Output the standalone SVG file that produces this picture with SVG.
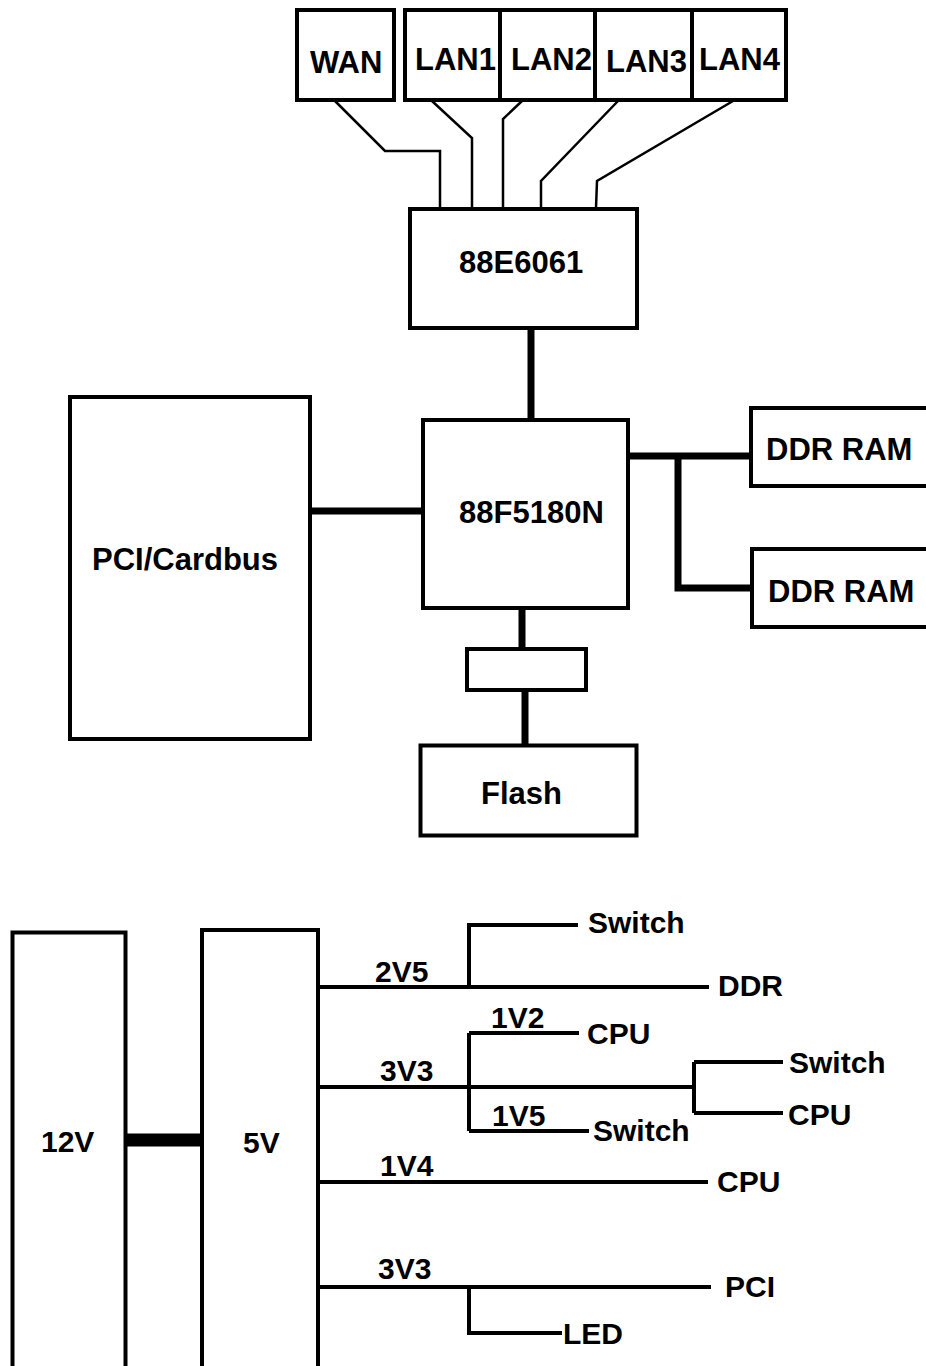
<svg xmlns="http://www.w3.org/2000/svg" width="926" height="1366" viewBox="0 0 926 1366">
<style>
.box{fill:#fff;stroke:#000;stroke-width:4}
.t{font-family:"Liberation Sans",Arial,sans-serif;font-weight:bold;font-size:31px;fill:#000}
.s{font-family:"Liberation Sans",Arial,sans-serif;font-weight:bold;font-size:30px;fill:#000}
.thin{fill:none;stroke:#000;stroke-width:2.5}
.bus{fill:none;stroke:#000;stroke-width:7}
.pw{fill:none;stroke:#000;stroke-width:4}
</style>
<rect width="926" height="1366" fill="#fff"/>
<g id="connectors">
<path class="thin" d="M335 101 L385 151 H440 V208"/>
<path class="thin" d="M432 101 L472 138 V208"/>
<path class="thin" d="M522 101 L503 119 V208"/>
<path class="thin" d="M618 101 L541 181 V208"/>
<path class="thin" d="M733 101 L597 181 L596 208"/>
<path class="bus" d="M531 330 V420"/>
<path class="bus" d="M312 511 H421"/>
<path class="bus" stroke-width="9" d="M630 456 H750"/>
<path class="bus" stroke-width="9" d="M678 456 V588 H751"/>
<path class="bus" d="M522 608 V649"/>
<path class="bus" d="M525 690 V745"/>
<path fill="none" stroke="#000" stroke-width="13" stroke-linecap="round" d="M126 1140 H206"/>
<path class="pw" d="M318 987 H709"/>
<path class="pw" d="M469 987 V925 H578"/>
<path class="pw" d="M318 1087 H695"/>
<path class="pw" d="M469 1033 V1131"/>
<path class="pw" d="M469 1033 H579"/>
<path class="pw" d="M469 1131 H589"/>
<path class="pw" d="M694 1062 V1113"/>
<path class="pw" d="M694 1062 H783"/>
<path class="pw" d="M694 1113 H783"/>
<path class="pw" d="M318 1182 H708"/>
<path class="pw" d="M318 1287 H711"/>
<path class="pw" d="M469 1287 V1333 H562"/>
</g>
<g id="wan"><rect class="box" x="297" y="10" width="97" height="90"/><text class="t" x="310" y="73">WAN</text></g>
<g id="lan1"><rect class="box" x="405" y="10" width="95" height="90"/><text class="t" x="415" y="70">LAN1</text></g>
<g id="lan2"><rect class="box" x="500" y="10" width="95" height="90"/><text class="t" x="511" y="70">LAN2</text></g>
<g id="lan3"><rect class="box" x="595" y="10" width="97" height="90"/><text class="t" x="606" y="72">LAN3</text></g>
<g id="lan4"><rect class="box" x="692" y="10" width="94" height="90"/><text class="t" x="699" y="70">LAN4</text></g>
<g id="sw88e6061"><rect class="box" x="410" y="209" width="227" height="119"/><text class="t" x="459" y="273">88E6061</text></g>
<g id="cpu88f5180n"><rect class="box" x="423" y="420" width="205" height="188"/><text class="t" x="459" y="523">88F5180N</text></g>
<g id="pci"><rect class="box" x="70" y="397" width="240" height="342"/><text class="t" x="92" y="570">PCI/Cardbus</text></g>
<g id="ddr1"><rect class="box" stroke-width="5" x="751" y="408" width="200" height="78"/><text class="t" x="766" y="460">DDR RAM</text></g>
<g id="ddr2"><rect class="box" stroke-width="5" x="752" y="549" width="200" height="78"/><text class="t" x="768" y="602">DDR RAM</text></g>
<g id="buffer"><rect class="box" x="467" y="649" width="119" height="41"/></g>
<g id="flash"><rect class="box" stroke-width="5" x="420.5" y="745.5" width="216" height="90"/><text class="t" x="481" y="804">Flash</text></g>
<g id="v12"><rect class="box" stroke-width="3" x="12.5" y="932.5" width="113" height="460"/><text class="s" x="41" y="1152">12V</text></g>
<g id="v5"><rect class="box" stroke-width="4.5" x="202" y="930" width="116" height="460"/><text class="s" x="243" y="1153">5V</text></g>
<g id="labels">
<text class="s" x="588" y="933">Switch</text>
<text class="s" x="375" y="982">2V5</text>
<text class="s" x="718" y="996">DDR</text>
<text class="s" x="491" y="1028">1V2</text>
<text class="s" x="587" y="1044">CPU</text>
<text class="s" x="380" y="1081">3V3</text>
<text class="s" x="789" y="1073">Switch</text>
<text class="s" x="788" y="1125">CPU</text>
<text class="s" x="492" y="1126">1V5</text>
<text class="s" x="593" y="1141">Switch</text>
<text class="s" x="380" y="1176">1V4</text>
<text class="s" x="717" y="1192">CPU</text>
<text class="s" x="378" y="1279">3V3</text>
<text class="s" x="725" y="1297">PCI</text>
<text class="s" x="563" y="1344">LED</text>
</g>
</svg>
